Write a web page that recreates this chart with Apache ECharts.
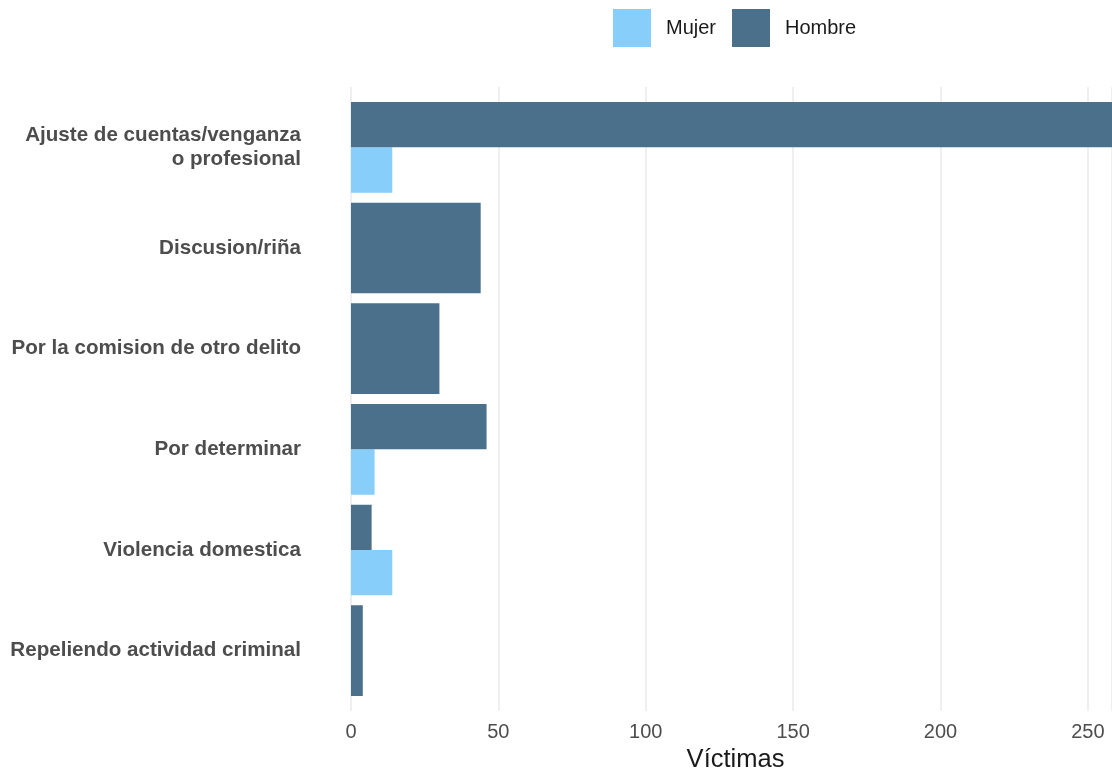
<!DOCTYPE html>
<html>
<head>
<meta charset="utf-8">
<script src="https://cdn.jsdelivr.net/npm/echarts@6/dist/echarts.min.js"></script>
<style>html,body{margin:0;padding:0;background:#fff}#c{width:1112px;height:774px}</style>
</head>
<body>
<div id="c"></div>
<script>
// ---- data ----
const categories = [
  'Ajuste de cuentas/venganza\no profesional',
  'Discusion/riña',
  'Por la comision de otro delito',
  'Por determinar',
  'Violencia domestica',
  'Repeliendo actividad criminal'
];
const hombre = [285, 44, 30, 46, 7, 4];
const mujer  = [14, null, null, 8, 14, null];
const xTicks = [0, 50, 100, 150, 200, 250];
const xMax = 258.2;

// ---- build ----
function buildData(vals, other, slotIfBoth) {
  const out = [];
  vals.forEach((v, i) => {
    if (v == null) return;
    out.push([i, v, other[i] == null ? 0 : slotIfBoth]);
  });
  return out;
}
function renderBar(params, api) {
  const ci = api.value(0), v = api.value(1), slot = api.value(2);
  const band = api.size([0, 1])[1];
  const c0 = api.coord([0, ci]);
  const c1 = api.coord([v, ci]);
  const total = band * 0.9;
  let y, h;
  if (slot === 0) { y = c0[1] - total / 2; h = total; }
  else if (slot < 0) { y = c0[1] - total / 2; h = total / 2; }
  else { y = c0[1]; h = total / 2; }
  const cs = params.coordSys;
  let x0 = Math.max(c0[0], cs.x), x1 = Math.min(c1[0], cs.x + cs.width);
  return { type: 'rect', shape: { x: x0, y: y, width: Math.max(0, x1 - x0), height: h }, style: api.style() };
}

const chart = echarts.init(document.getElementById('c'), null, { renderer: 'canvas' });
const FONT = 'Liberation Sans';
chart.setOption({
  animation: false,
  backgroundColor: '#ffffff',
  textStyle: { fontFamily: FONT },
  legend: {
    data: ['Mujer', 'Hombre'],
    left: 613, top: 9, padding: 0,
    itemWidth: 38, itemHeight: 38, itemGap: 16,
    icon: 'rect',
    textStyle: { fontSize: 20, color: '#1a1a1a', fontFamily: FONT, padding: [3, 0, 0, 10] }
  },
  grid: [
    { left: 351, right: 0, top: 87, bottom: 63, outerBoundsMode: 'none', containLabel: false },
    { left: 351, right: 0, top: 97, height: 604, outerBoundsMode: 'none', containLabel: false }
  ],
  xAxis: [
    {
      type: 'value', gridIndex: 0, min: 0, max: xMax, interval: 50,
      name: 'Víctimas', nameLocation: 'middle', nameGap: 36,
      nameTextStyle: { fontSize: 25.5, color: '#1a1a1a', fontFamily: FONT, padding: [0, 0, 0, 8] },
      axisLine: { show: false }, axisTick: { show: false },
      axisLabel: {
        fontSize: 20, color: '#4d4d4d', margin: 11, fontFamily: FONT,
        formatter: v => (xTicks.indexOf(v) >= 0 ? String(v) : '')
      },
      splitLine: { show: true, lineStyle: { color: '#ebebeb', width: 1.6 } }
    },
    {
      type: 'value', gridIndex: 1, min: 0, max: xMax, show: false
    }
  ],
  yAxis: [
    { type: 'value', gridIndex: 0, show: false, min: 0, max: 1 },
    {
      type: 'category', gridIndex: 1, data: categories, inverse: true,
      axisLine: { show: false }, axisTick: { show: false },
      splitLine: { show: false },
      axisLabel: {
        fontSize: 20.6, fontWeight: 'bold', color: '#4d4d4d', margin: 50,
        lineHeight: 24, fontFamily: FONT, align: 'right'
      }
    }
  ],
  series: [
    {
      name: 'Mujer', type: 'custom', xAxisIndex: 1, yAxisIndex: 1,
      itemStyle: { color: '#87CEFA' },
      encode: { x: 1, y: 0 },
      renderItem: renderBar,
      data: buildData(mujer, hombre, 1)
    },
    {
      name: 'Hombre', type: 'custom', xAxisIndex: 1, yAxisIndex: 1,
      itemStyle: { color: '#4A708B' },
      encode: { x: 1, y: 0 },
      renderItem: renderBar,
      data: buildData(hombre, mujer, -1)
    }
  ]
});
</script>
</body>
</html>
